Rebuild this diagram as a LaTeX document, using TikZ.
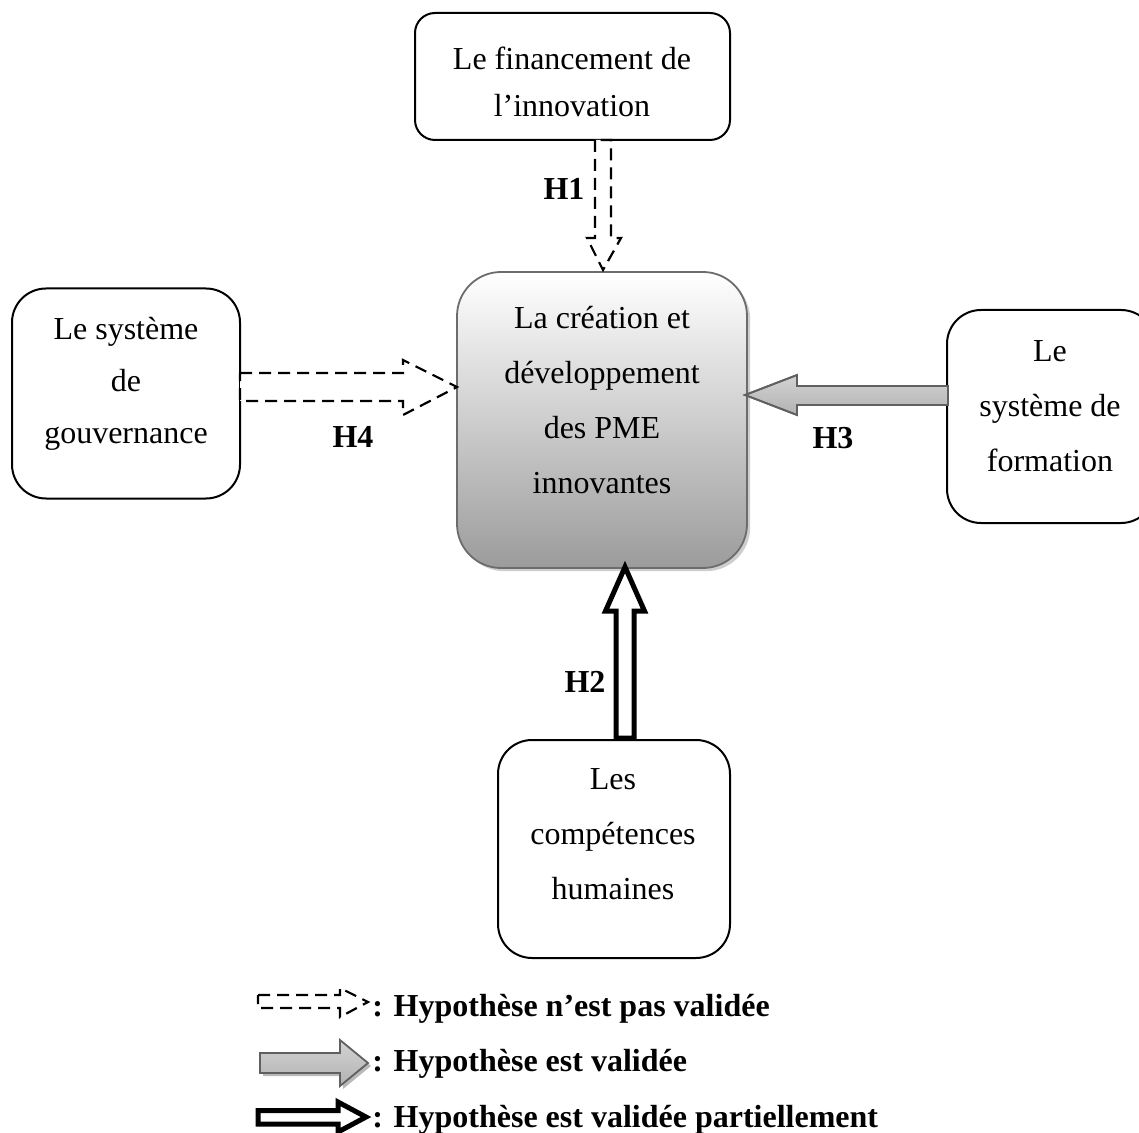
\documentclass[tikz,border=0pt]{standalone}
\usepackage{fontspec}
\setmainfont{Liberation Serif}
\usetikzlibrary{shadows}
\begin{document}
\begin{tikzpicture}[x=0.5pt,y=-0.5pt,
  box/.style={draw=black, line width=1pt, fill=white, inner sep=0pt},
  txt/.style={align=center, font=\fontsize{16}{#1}\selectfont, inner sep=0pt},
  txt/.default=27.5,
  hlab/.style={font=\fontsize{16}{19}\selectfont\bfseries, inner sep=0pt},
  legtxt/.style={font=\fontsize{16}{19}\selectfont\bfseries, inner sep=0pt, anchor=base west},
  dasharrow/.style={draw=black, line width=1.1pt, dash pattern=on 6pt off 3.5pt, fill=white},
  grayarrow/.style={draw=gray!75!black, line width=0.9pt, top color=gray!35, middle color=gray!4, bottom color=gray!60},
  blackarrow/.style={draw=black, line width=2.5pt, line join=miter, miter limit=10, fill=white}
]
\useasboundingbox (0,0) rectangle (1139,1133);

% boxes
\node[box, rounded corners=10pt, minimum width=157.5pt, minimum height=63.5pt] (fin) at (572.5,76.5) {};
\node[box, rounded corners=17pt, minimum width=114pt, minimum height=105pt] (gov) at (126,393.5) {};
\node[box, rounded corners=17pt, minimum width=104pt, minimum height=106.5pt] (form) at (1051,416.5) {};
\node[box, rounded corners=17pt, minimum width=116pt, minimum height=109pt] (comp) at (614,849) {};
\node[draw=gray!85!black, line width=0.9pt, rounded corners=22pt, minimum width=145pt, minimum height=148pt,
      top color=white, bottom color=gray!78, inner sep=0pt,
      drop shadow={shadow xshift=1.6pt, shadow yshift=-1.6pt, fill=gray!70, opacity=0.55}] (pme) at (602,420) {};

% texts
\node[txt=23.5] (fint) at (572,82) {Le financement de\\l’innovation};
\node[txt=26] (govt) at (126,384) {Le système\\de\\gouvernance};
\node[txt] (pmet) at (602,400) {La création et\\développement\\des PME\\innovantes};
\node[txt] (formt) at (1050,406) {Le\\système de\\formation};
\node[txt] (compt) at (613,834) {Les\\compétences\\humaines};

% arrows
\draw[dasharrow] (595,140) -- (595,238) -- (587,238) -- (603,270) -- (621,238) -- (611,238) -- (611,140) -- cycle;
\draw[dasharrow] (240,373) -- (403,373) -- (403,360) -- (457,387) -- (403,415) -- (403,401) -- (240,401) -- cycle;
\path[grayarrow] (948,386) -- (797,386) -- (797,375) -- (745,395) -- (797,415) -- (797,405) -- (948,405) -- cycle;
\draw[gray!75!black, line width=0.9pt] (948,386) -- (797,386) -- (797,375) -- (745,395) -- (797,415) -- (797,405) -- (948,405);
\draw[blackarrow] (616,738) -- (616,611) -- (605.5,611) -- (625,567) -- (644.5,611) -- (634,611) -- (634,738) -- cycle;

% labels
\node[hlab] (h1) at (564,189) {H1};
\node[hlab] (h4) at (353,437) {H4};
\node[hlab] (h3) at (833,438) {H3};
\node[hlab] (h2) at (585,682) {H2};

% legend
\draw[dasharrow] (258,995) -- (340,995) -- (340,988) -- (368,1002) -- (340,1017) -- (340,1008) -- (258,1008) -- cycle;
\fill[gray!55] (263,1056) -- (343,1056) -- (343,1043) -- (371,1066) -- (343,1089) -- (343,1076) -- (263,1076) -- cycle;
\path[grayarrow] (260,1053) -- (340,1053) -- (340,1040) -- (368,1063) -- (340,1086) -- (340,1073) -- (260,1073) -- cycle;
\draw[blackarrow] (258,1110.5) -- (338,1110.5) -- (338,1102) -- (366,1117) -- (338,1132) -- (338,1124) -- (258,1124) -- cycle;

\node[legtxt] (l1) at (372,1016) {: Hypothèse n’est pas validée};
\node[legtxt] (l2) at (372,1071) {: Hypothèse est validée};
\node[legtxt] (l3) at (372,1127) {: Hypothèse est validée partiellement};
\end{tikzpicture}
\end{document}
